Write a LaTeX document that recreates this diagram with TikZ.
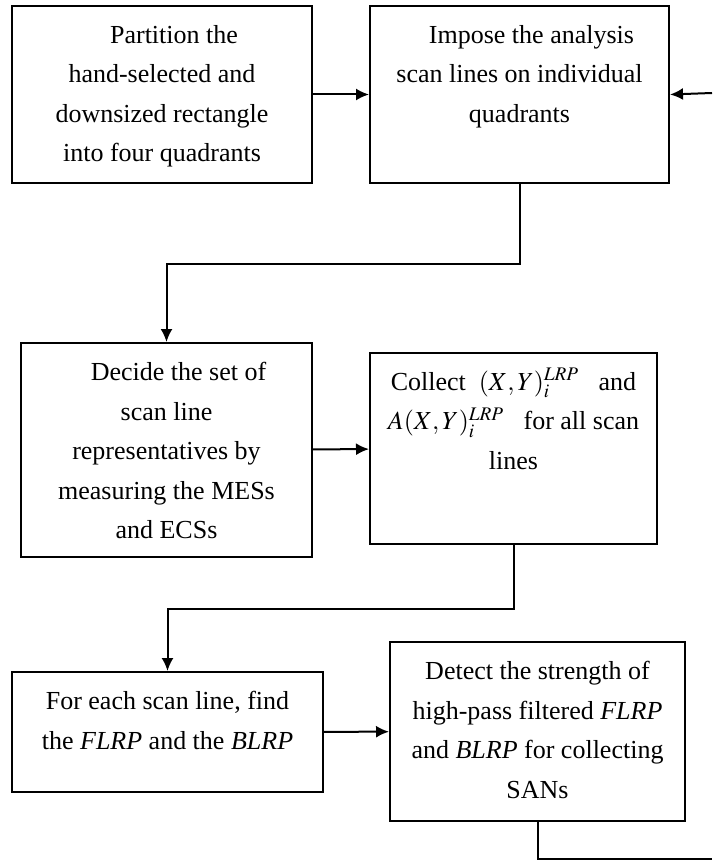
\documentclass[tikz,border=0pt]{standalone}
\usepackage{mathptmx}
\usepackage[no-math]{fontspec}
\setmainfont{Liberation Serif}
\usetikzlibrary{arrows.meta}

\begin{document}
\begin{tikzpicture}[
x=0.5pt, y=-0.5pt,
square/.style={rectangle, draw=black, fill=white, line width=1pt, anchor=north west, inner sep=0pt},
square_text/.style={anchor=north, align=center, inner sep=0pt, font=\fontsize{13}{19.75}\selectfont},
out_arrow/.style={-{Latex[length=6.5pt, width=6pt]}, line width=1pt},
plain_line/.style={line width=1pt}
]

\useasboundingbox (0,0) rectangle (712,861);

\node[square, minimum width=150pt, minimum height=88.5pt](partition) at (11,5) {};
\node[square, minimum width=149.5pt, minimum height=88.5pt](impose) at (369,5) {};
\node[square, minimum width=145.5pt, minimum height=107pt](decide) at (20,342) {};
\node[square, minimum width=143.5pt, minimum height=95.5pt](collect) at (369,352) {};
\node[square, minimum width=155.5pt, minimum height=60pt](for_each) at (11,671) {};
\node[square, minimum width=147.5pt, minimum height=89.5pt](detect) at (389,641) {};

\node[square_text](partition_text) at ([yshift=-10pt]partition.north) {\hspace*{12pt}Partition the\\ hand-selected and\\ downsized rectangle\\ into four quadrants};
\node[square_text](impose_text) at ([yshift=-10pt]impose.north) {\hspace*{12pt}Impose the analysis\\ scan lines on individual\\ quadrants};
\node[square_text](decide_text) at ([yshift=-10pt]decide.north) {\hspace*{12pt}Decide the set of\\ scan line\\ representatives by\\ measuring the MESs\\ and ECSs};
\node[square_text](collect_text) at ([yshift=-8pt]collect.north) {Collect~~$(X,Y)_i^{LRP}$~~ and\\ $A(X,Y)_i^{LRP}$~~ for all scan\\ lines};
\node[square_text](for_each_text) at ([yshift=-10pt]for_each.north) {For each scan line, find\\ the \textit{FLRP} and the \textit{BLRP}};
\node[square_text](detect_text) at ([yshift=-10pt]detect.north) {Detect the strength of\\ high-pass filtered \textit{FLRP}\\ and \textit{BLRP} for collecting\\ SANs};

\coordinate(loop_in) at (712,93);
\coordinate(loop_out) at (712,859);

\draw[out_arrow](partition) -- (impose);
\draw[out_arrow](loop_in) -- (impose.east);
\draw[out_arrow](impose.south) -- ++(0,80) -| (decide.north);
\draw[out_arrow](decide) -- (collect);
\draw[out_arrow](collect.south) -- ++(0,64) -| (for_each.north);
\draw[out_arrow](for_each) -- (detect);
\draw[plain_line](detect.south) |- (loop_out);

\end{tikzpicture}
\end{document}
